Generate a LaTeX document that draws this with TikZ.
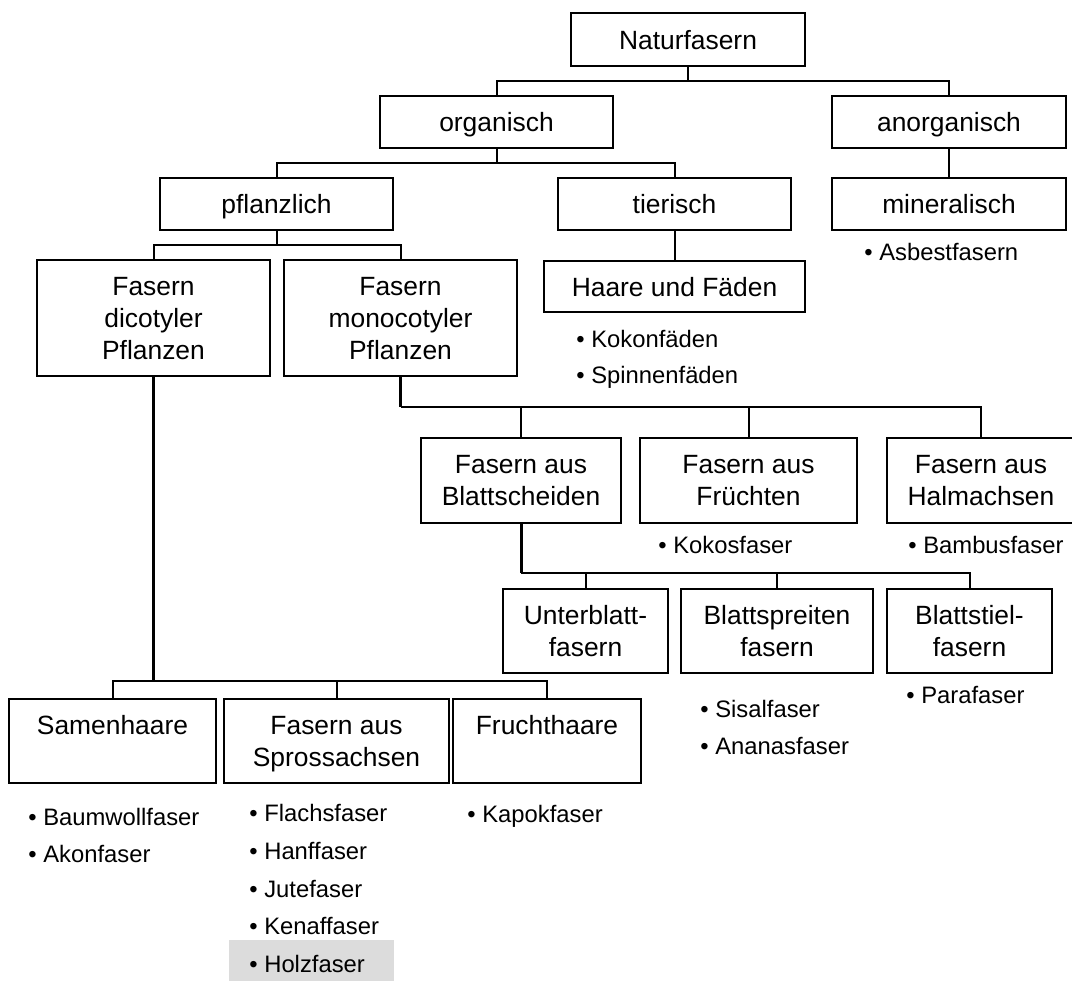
\documentclass[tikz,border=0pt]{standalone}
\usepackage{fontspec}
\setmainfont{Liberation Sans}
\usepackage{tikz}
\definecolor{hinterlegt}{HTML}{DCDCDC}
\newcommand{\kastenfont}{\fontsize{13.2}{16}\selectfont}
\newcommand{\listenfont}{\fontsize{11.9}{14}\selectfont}
\tikzset{
  klasse/.style={draw, line width=1.15pt, inner sep=0pt, align=center, text depth=0pt, font=\kastenfont},
  eintrag/.style={anchor=base west, inner sep=0pt, font=\listenfont},
  link/.style={line width=1pt},
  spine/.style={line width=1.5pt},
}
\begin{document}
\begin{tikzpicture}[x=0.5pt, y=-0.5pt]
	\useasboundingbox (0,0) rectangle (1072,981);
	\fill[white] (0,0) rectangle (1072,981);
	\fill[hinterlegt] (229,940) rectangle (394,981);
	% Kaesten
	\node[klasse, minimum width=117pt, minimum height=26.5pt] (natur) at (688,39.5) {Naturfasern};
	\node[klasse, minimum width=116.5pt, minimum height=26pt] (org) at (496.5,122) {organisch};
	\node[klasse, minimum width=117pt, minimum height=26pt] (anorg) at (949,122) {anorganisch};
	\node[klasse, minimum width=116.5pt, minimum height=26pt] (pflanz) at (276.5,204) {pflanzlich};
	\node[klasse, minimum width=116.5pt, minimum height=26pt] (tier) at (674.5,204) {tierisch};
	\node[klasse, minimum width=117pt, minimum height=26pt] (miner) at (949,204) {mineralisch};
	\node[klasse, minimum width=130.5pt, minimum height=25.5pt] (haare) at (674.5,286.5) {Haare und Fäden};
	\node[klasse, minimum width=116.5pt, minimum height=58pt] (dico) at (153.5,318) {Fasern\\dicotyler\\Pflanzen};
	\node[klasse, minimum width=116.5pt, minimum height=58pt] (mono) at (400.5,318) {Fasern\\monocotyler\\Pflanzen};
	\node[klasse, minimum width=100pt, minimum height=42.5pt] (blattsch) at (521,480.5) {Fasern aus\\Blattscheiden};
	\node[klasse, minimum width=108.5pt, minimum height=42.5pt] (frucht) at (748.5,480.5) {Fasern aus\\Früchten};
	\node[klasse, minimum width=94pt, minimum height=42.5pt] (halm) at (981,480.5) {Fasern aus\\Halmachsen};
	\node[klasse, minimum width=82.5pt, minimum height=42pt] (unterbl) at (585.5,631) {Unterblatt-\\fasern};
	\node[klasse, minimum width=96pt, minimum height=42pt] (spreit) at (777,631) {Blattspreiten\\fasern};
	\node[klasse, minimum width=82.5pt, minimum height=42pt] (stiel) at (969.5,631) {Blattstiel-\\fasern};
	\node[klasse, minimum width=103.5pt, minimum height=42pt] (samen) at (112.5,741) {Samenhaare\\\mbox{}};
	\node[klasse, minimum width=112.5pt, minimum height=42pt] (spross) at (336.5,741) {Fasern aus\\Sprossachsen};
	\node[klasse, minimum width=94pt, minimum height=42pt] (fruchth) at (547,741) {Fruchthaare\\\mbox{}};
	% Verzweigungen
	\coordinate (j0) at (688,81);
	\coordinate (j1) at (496.5,163);
	\coordinate (j2) at (276.5,245);
	\coordinate (j3) at (153.5,681);
	\coordinate (j4) at (400.5,407);
	\coordinate (j5) at (521,573);
	\draw[link] (natur) -- (j0);
	\draw[link] (org.north) |- (j0) -| (anorg.north);
	\draw[link] (anorg) -- (miner);
	\draw[link] (org) -- (j1);
	\draw[link] (pflanz.north) |- (j1) -| (tier.north);
	\draw[link] (tier) -- (haare);
	\draw[link] (pflanz) -- (j2);
	\draw[link] (dico.north) |- (j2) -| (mono.north);
	\draw[spine] (dico) -- (j3);
	\draw[link] (samen.north) |- (j3) -| (fruchth.north);
	\draw[link] (spross) -- (spross |- j3);
	\draw[spine] (mono) -- (j4);
	\draw[link] (j4) -| (halm.north);
	\draw[link] (blattsch) -- (blattsch |- j4);
	\draw[link] (frucht) -- (frucht |- j4);
	\draw[spine] (blattsch) -- (j5);
	\draw[link] (j5) -| (stiel.north);
	\draw[link] (unterbl) -- (unterbl |- j5);
	\draw[link] (spreit) -- (spreit |- j5);
	% Beispiele
	\node[eintrag] (asbest) at (864,260) {• Asbestfasern};
	\node[eintrag] (kokon) at (576,347) {• Kokonfäden};
	\node[eintrag] (spinnen) at (576,383) {• Spinnenfäden};
	\node[eintrag] (kokos) at (658,553) {• Kokosfaser};
	\node[eintrag] (bambus) at (908,553) {• Bambusfaser};
	\node[eintrag] (sisal) at (700,717) {• Sisalfaser};
	\node[eintrag] (ananas) at (700,754) {• Ananasfaser};
	\node[eintrag] (para) at (906,703) {• Parafaser};
	\node[eintrag] (baumwoll) at (28,825) {• Baumwollfaser};
	\node[eintrag] (akon) at (28,862) {• Akonfaser};
	\node[eintrag] (flachs) at (249,821) {• Flachsfaser};
	\node[eintrag] (hanf) at (249,859) {• Hanffaser};
	\node[eintrag] (jute) at (249,897) {• Jutefaser};
	\node[eintrag] (kenaf) at (249,934) {• Kenaffaser};
	\node[eintrag] (holz) at (249,972) {• Holzfaser};
	\node[eintrag] (kapok) at (467,822) {• Kapokfaser};
\end{tikzpicture}
\end{document}
